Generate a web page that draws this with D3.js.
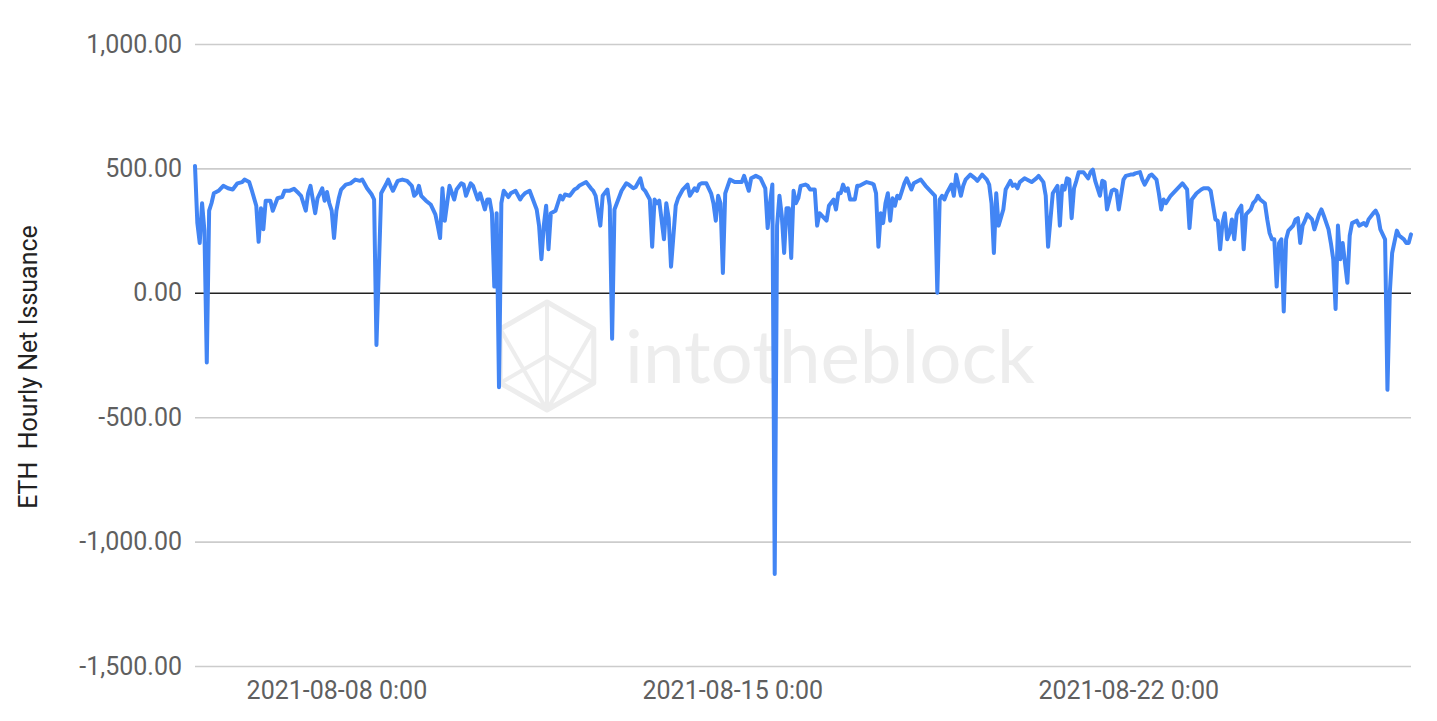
<!DOCTYPE html>
<html>
<head>
<meta charset="utf-8">
<script src="https://cdn.jsdelivr.net/npm/d3@7"></script>
<style>
  html, body { margin: 0; padding: 0; background: #ffffff; }
  svg { display: block; }
</style>
</head>
<body>
<svg id="chart" width="1437" height="721"></svg>
<script>
// ---------------- DATA ----------------
const seriesStart = "2021-08-05 12:00";   // first hourly observation
const hourOffsets = [
  0,1,2,3,4,5,6,7,8,10,12,14,16,18,20,21,23,24,26,27,28,29,30,32,33,35,37,38,40,42,
  44,45,47,48,49,51,52,54,55,56,57,58,59,60,61,62,64,66,68,70,71,73,75,76,77,79,81,82,83,84,
  86,88,90,92,93,94,95,96,98,100,102,103,104,105,106,108,110,111,113,114,115,117,118,120,121,123,124,125,126,127,
  128,129,130,131,133,134,136,138,139,140,142,143,145,146,147,148,149,150,151,153,155,156,157,159,161,162,163,166,168,169,
  170,172,173,175,176,177,178,179,181,183,184,186,187,189,190,191,193,194,195,196,197,199,200,201,202,204,205,207,209,210,
  212,213,214,215,217,218,219,220,221,222,223,224,225,227,229,230,232,233,235,236,238,240,242,243,244,245,246,247,248,249,
  250,251,252,253,254,255,256,257,259,260,261,263,264,265,266,268,269,271,272,273,274,275,276,277,278,280,281,282,284,285,
  287,288,289,290,291,292,293,294,295,296,297,298,299,300,301,302,304,305,307,308,310,312,314,315,316,317,318,319,321,322,
  323,325,326,327,329,331,332,334,336,337,338,339,340,341,343,344,346,347,348,349,350,352,353,355,357,358,360,361,362,363,
  364,366,367,368,369,370,371,372,373,374,375,377,379,380,381,382,384,385,386,387,389,390,391,392,394,395,397,398,399,401,
  402,403,405,406,408,409,410,411,412,414,415,417,418,419,421,422,423,425,427,428,430,431,433,434,435,436,437,438,439,440,
  441,442,443,444,445,446,448,449,450,451,452,454,455,456,457,458,459,460,461,462,463,464,466,467,468,469,470,471,472,474,
  475,477,478,479,481,482,483,484,485,486,487,488,489,490,491,493,494,496,497,498,500,501,502,503,505,506,507,508,510,511,
  513,514,515,516
];
const netIssuance = [
  510,280,200,360,250,-280,330,360,400,410,430,420,415,440,445,455,445,415,350,205,340,255,370,370,330,380,385,410,410,418,
  400,390,330,400,430,320,380,420,370,405,360,330,220,330,380,415,435,440,455,450,455,420,395,375,-210,400,435,455,430,410,
  450,455,450,430,390,400,430,390,370,355,315,270,220,420,290,430,375,415,440,435,390,440,430,375,400,335,375,375,320,25,
  320,-380,360,410,385,400,410,375,390,400,410,385,335,270,135,270,350,175,320,330,390,375,395,390,415,420,430,445,420,410,
  390,270,390,415,350,-185,335,360,410,440,435,420,425,460,420,410,375,185,375,360,370,215,360,300,105,350,380,415,435,390,
  420,410,435,440,440,420,400,360,290,390,360,80,400,455,445,445,445,470,410,460,470,460,420,260,360,435,-1130,270,390,310,
  160,340,340,140,410,360,380,430,435,430,415,415,270,320,310,290,350,375,335,400,400,435,410,420,375,375,430,430,440,445,
  440,435,400,185,320,280,360,400,290,380,350,390,380,410,440,460,415,440,450,455,430,410,390,0,375,390,375,400,435,390,
  475,390,430,455,475,460,450,475,455,435,360,160,400,270,335,415,450,430,435,420,445,460,455,445,460,470,445,390,185,295,
  400,430,270,430,415,460,455,300,420,450,485,485,460,485,495,450,390,450,445,335,410,415,410,335,455,470,475,475,480,485,
  455,435,470,475,455,400,335,375,360,390,400,420,430,440,415,260,375,400,415,420,420,410,295,290,175,280,320,215,240,295,
  215,315,335,350,175,315,335,360,370,390,375,360,295,240,215,215,25,200,215,-75,215,250,270,295,300,200,270,290,315,295,
  255,315,335,310,255,200,135,-65,270,135,200,120,40,230,280,290,270,280,270,295,320,330,310,255,215,-390,0,160,250,230,
  215,200,200,235
];
const yTickValues = [1000, 500, 0, -500, -1000, -1500];
const xTickLabels = ["2021-08-08 0:00", "2021-08-15 0:00", "2021-08-22 0:00"];
const yAxisTitle = "ETH  Hourly Net Issuance";
const watermarkText = "intotheblock";

// ---------------- SETUP ----------------
const parseTime = d3.timeParse("%Y-%m-%d %H:%M");
const t0 = parseTime(seriesStart);
const data = hourOffsets.map((h, i) => ({ date: d3.timeHour.offset(t0, h), value: netIssuance[i] }));
const xTicks = xTickLabels.map(s => parseTime(s));

const svg = d3.select("#chart");
const margin = { left: 195, right: 26, top: 44, bottom: 55 };
const W = 1437, H = 721;
const plotLeft = margin.left, plotRight = W - margin.right;
const plotTop = margin.top, plotBottom = H - margin.bottom;

const x = d3.scaleTime()
  .domain(d3.extent(data, d => d.date))
  .range([plotLeft, plotRight]);
const y = d3.scaleLinear()
  .domain([-1500, 1000])
  .range([plotBottom, plotTop]);

const locale = d3.formatLocale({ decimal: ".", thousands: ",", grouping: [3], currency: ["$", ""], minus: "-" });
const yFmt = locale.format(",.2f");
const xFmt = d3.timeFormat("%Y-%m-%d %-H:%M");

const FONT = "Roboto, 'Liberation Sans', Arial, sans-serif";
const FS = 25;

// ---------------- WATERMARK ----------------
const wm = svg.append("g").attr("class", "watermark");
const cx = 547, cy = 356, r = 54;
const hex = d3.range(6).map(i => {
  const a = Math.PI / 180 * (60 * i - 90);
  return [cx + r * Math.cos(a), cy + r * Math.sin(a)];
});
wm.append("path")
  .attr("d", "M" + hex.map(p => p.join(",")).join("L") + "Z")
  .attr("fill", "none").attr("stroke", "#ededed").attr("stroke-width", 5).attr("stroke-linejoin", "round");
const inner = [[hex[0], [cx, cy]], [hex[2], [cx, cy]], [hex[4], [cx, cy]],
               [[cx, cy], hex[3]], [hex[5], hex[3]], [hex[1], hex[3]]];
inner.forEach(seg => {
  wm.append("line")
    .attr("x1", seg[0][0]).attr("y1", seg[0][1])
    .attr("x2", seg[1][0]).attr("y2", seg[1][1])
    .attr("stroke", "#ededed").attr("stroke-width", 4);
});
wm.append("text")
  .attr("x", 625).attr("y", 383)
  .attr("font-family", "Lato, 'Open Sans', sans-serif")
  .attr("font-size", 74)
  .attr("textLength", 410)
  .attr("lengthAdjust", "spacingAndGlyphs")
  .attr("fill", "#ededed")
  .text(watermarkText);

// ---------------- GRID + Y AXIS ----------------
const yAxis = d3.axisLeft(y)
  .tickValues(yTickValues)
  .tickFormat(yFmt)
  .tickSize(0)
  .tickPadding(0);

const gy = svg.append("g").attr("transform", `translate(${plotLeft},0)`).call(yAxis);
gy.select(".domain").remove();
gy.selectAll(".tick text")
  .attr("x", -13)
  .attr("font-family", FONT)
  .attr("font-size", FS)
  .attr("fill", "#5f5f5f");
gy.selectAll(".tick").append("line")
  .attr("x1", 0).attr("x2", plotRight - plotLeft)
  .attr("stroke", d => d === 0 ? "#222222" : "#cccccc")
  .attr("stroke-width", 1.6);
gy.selectAll(".tick").filter(d => d === 0).raise();

// ---------------- X AXIS ----------------
const xAxis = d3.axisBottom(x)
  .tickValues(xTicks)
  .tickFormat(xFmt)
  .tickSize(0)
  .tickPadding(0);
const gx = svg.append("g").attr("transform", `translate(0,${plotBottom})`).call(xAxis);
gx.select(".domain").remove();
gx.selectAll(".tick text")
  .attr("y", 33)
  .attr("dy", 0)
  .attr("font-family", FONT)
  .attr("font-size", FS)
  .attr("fill", "#5f5f5f");

// ---------------- LINE ----------------
const line = d3.line()
  .x(d => x(d.date))
  .y(d => y(d.value));
svg.append("path")
  .datum(data)
  .attr("fill", "none")
  .attr("stroke", "#4285f4")
  .attr("stroke-width", 4)
  .attr("stroke-linejoin", "round")
  .attr("stroke-linecap", "round")
  .attr("d", line);

// ---------------- Y TITLE ----------------
svg.append("text")
  .attr("transform", `translate(37,367) rotate(-90)`)
  .attr("text-anchor", "middle")
  .attr("font-family", FONT)
  .attr("font-size", FS)
  .attr("fill", "#222222")
  .attr("xml:space", "preserve")
  .style("white-space", "pre")
  .text(yAxisTitle);
</script>
</body>
</html>
